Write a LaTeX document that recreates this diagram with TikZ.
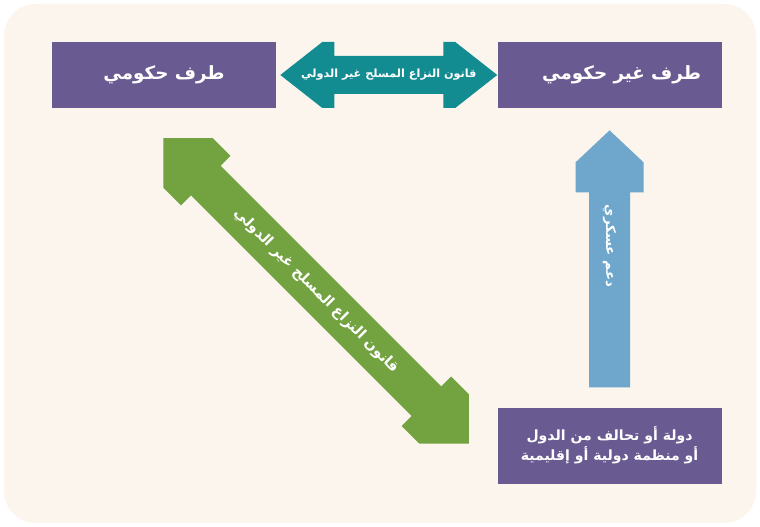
\documentclass[tikz,border=0pt]{standalone}
\usepackage{fontspec}
\newfontfamily\arabicfont[Script=Arabic]{DejaVu Sans}
\TeXXeTstate=1
\usetikzlibrary{positioning,calc}
\definecolor{boxpurple}{HTML}{6A5A92}
\definecolor{lawteal}{HTML}{138C91}
\definecolor{lawgreen}{HTML}{73A340}
\definecolor{aidblue}{HTML}{6EA6CC}
\definecolor{paper}{HTML}{FCF5EE}
\newcommand{\twoway}[6]{\fill[#1] (-#2,0) -- (-#2+#5,#4) -- (-#2+#5+#6,#4) -- (-#2+#5+#6,#3)
  -- (#2-#5-#6,#3) -- (#2-#5-#6,#4) -- (#2-#5,#4) -- (#2,0)
  -- (#2-#5,-#4) -- (#2-#5-#6,-#4) -- (#2-#5-#6,-#3)
  -- (-#2+#5+#6,-#3) -- (-#2+#5+#6,-#4) -- (-#2+#5,-#4) -- cycle;}
\newcommand{\oneway}[6]{\fill[#1] (0,#3) -- (#2-#5-#6,#3) -- (#2-#5-#6,#4) -- (#2-#5,#4) -- (#2,0)
  -- (#2-#5,-#4) -- (#2-#5-#6,-#4) -- (#2-#5-#6,-#3) -- (0,-#3) -- cycle;}
\begin{document}
\begin{tikzpicture}[
  b/.style={fill=boxpurple,text=white,minimum width=5.6cm,minimum height=1.65cm,
            align=center,inner sep=3pt,font=\arabicfont\bfseries\fontsize{13}{15}\selectfont},
  lbl/.style={text=white,inner sep=1pt,font=\arabicfont\bfseries\fontsize{10.3}{12}\selectfont},
  px/.style={x=0.025cm,y=0.025cm}]
\useasboundingbox (0,0) rectangle (19,13.175);
\fill[white] (0,0) rectangle (19,13.175);
\fill[paper,rounded corners=0.8cm] (0.1,0.1) rectangle (18.9,13.075);
\node[b] (gov) at (4.1,11.3) {\beginR طرف حكومي\endR};
\node[b,right=5.525cm of gov] (nongov) {\hspace*{0.6cm}\beginR طرف غير حكومي\endR};
\node[b,below=7.475cm of nongov,minimum height=1.9cm,
      font=\arabicfont\bfseries\fontsize{10}{14}\selectfont] (state)
  {\beginR دولة أو تحالف من الدول\endR\\\beginR أو منظمة دولية أو إقليمية\endR};
\coordinate (ta) at ([xshift=0.1cm]gov.east);
\coordinate (tb) at (nongov.west);
\coordinate (ga) at ([yshift=-0.7cm]gov.south);
\coordinate (gb) at ([xshift=-0.725cm]state.west);
\coordinate (bt) at ([yshift=-0.55cm]nongov.south);
\coordinate (bb) at ([yshift=0.5cm]state.north);
\begin{scope}[shift={($(ta)!.5!(tb)$)},px]
  \twoway{lawteal}{108.5}{19}{33}{42}{12}
\end{scope}
\begin{scope}[shift={($(ga)!.5!(gb)$)},rotate=-45,px]
  \twoway{lawgreen}{216}{21}{35}{35}{25}
\end{scope}
\begin{scope}[shift={(bb)},rotate=90,px]
  \oneway{aidblue}{257}{20.5}{34}{32}{30}
\end{scope}
\node[lbl,font=\arabicfont\bfseries\fontsize{8}{10}\selectfont] (tealtxt) at ($(ta)!.5!(tb)$)
  {\beginR قانون النزاع المسلح غير الدولي\endR};
\node[lbl,rotate=-45] (greentxt) at ($(ga)!.5!(gb)$)
  {\beginR قانون النزاع المسلح غير الدولي\endR};
\node[lbl,rotate=-90,font=\arabicfont\bfseries\fontsize{9.5}{11}\selectfont] (bluetxt)
  at ($(bb)!.55!(bt)$) {\beginR دعم عسكري\endR};
\end{tikzpicture}
\end{document}
